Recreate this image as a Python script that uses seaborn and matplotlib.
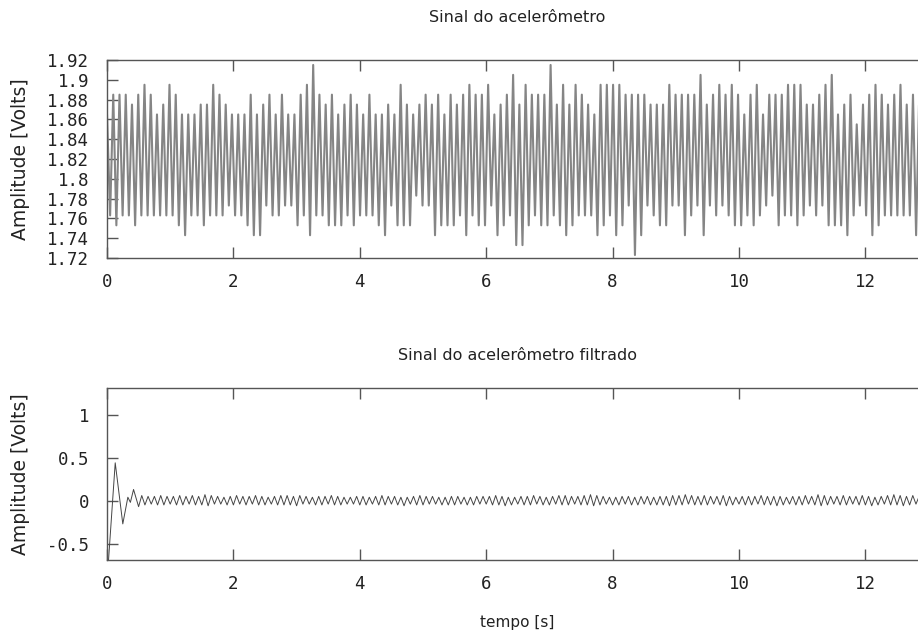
import numpy as np
import pandas as pd
import matplotlib
matplotlib.use("Agg")
import matplotlib.pyplot as plt
import seaborn as sns

# ---------------- data ----------------
# raw accelerometer signal: successive peak / trough values (one per ~0.1 s cycle)
raw_peaks = [
    1.865, 1.885, 1.885, 1.885, 1.875, 1.885, 1.895, 1.885, 1.865, 1.875, 1.895,
    1.885, 1.865, 1.865, 1.865, 1.875, 1.875, 1.895, 1.885, 1.875, 1.865, 1.865,
    1.865, 1.885, 1.865, 1.875, 1.885, 1.865, 1.885, 1.865, 1.865, 1.885, 1.895,
    1.915, 1.885, 1.875, 1.885, 1.865, 1.875, 1.885, 1.875, 1.865, 1.885, 1.865,
    1.865, 1.875, 1.865, 1.895, 1.875, 1.865, 1.875, 1.885, 1.875, 1.885, 1.865,
    1.885, 1.875, 1.885, 1.895, 1.885, 1.885, 1.895, 1.865, 1.875, 1.885, 1.905,
    1.875, 1.895, 1.885, 1.885, 1.885, 1.915, 1.875, 1.895, 1.875, 1.895, 1.885,
    1.875, 1.865, 1.895, 1.895, 1.895, 1.895, 1.885, 1.885, 1.885, 1.885, 1.875,
    1.875, 1.875, 1.895, 1.885, 1.885, 1.885, 1.885, 1.905, 1.875, 1.885, 1.895,
    1.885, 1.895, 1.885, 1.865, 1.885, 1.895, 1.865, 1.885, 1.885, 1.885, 1.895,
    1.895, 1.895, 1.875, 1.875, 1.885, 1.895, 1.905, 1.865, 1.875, 1.885, 1.855,
    1.875, 1.885, 1.895, 1.885, 1.875, 1.885, 1.895, 1.875, 1.885, 1.885, 1.875,
]
raw_troughs = [
    1.763, 1.753, 1.763, 1.763, 1.753, 1.763, 1.763, 1.763, 1.763, 1.763, 1.763,
    1.753, 1.743, 1.763, 1.763, 1.753, 1.763, 1.763, 1.763, 1.773, 1.763, 1.763,
    1.753, 1.743, 1.743, 1.773, 1.763, 1.763, 1.773, 1.773, 1.753, 1.763, 1.743,
    1.763, 1.763, 1.753, 1.753, 1.753, 1.763, 1.753, 1.763, 1.763, 1.763, 1.753,
    1.743, 1.773, 1.753, 1.753, 1.753, 1.783, 1.773, 1.773, 1.743, 1.753, 1.753,
    1.753, 1.763, 1.743, 1.763, 1.753, 1.753, 1.773, 1.743, 1.753, 1.763, 1.733,
    1.733, 1.753, 1.763, 1.753, 1.753, 1.763, 1.753, 1.743, 1.753, 1.763, 1.763,
    1.763, 1.743, 1.753, 1.763, 1.743, 1.753, 1.773, 1.723, 1.743, 1.773, 1.763,
    1.753, 1.753, 1.773, 1.773, 1.743, 1.763, 1.773, 1.743, 1.773, 1.763, 1.773,
    1.763, 1.753, 1.753, 1.763, 1.753, 1.763, 1.773, 1.783, 1.753, 1.763, 1.763,
    1.753, 1.763, 1.773, 1.763, 1.773, 1.753, 1.753, 1.753, 1.743, 1.763, 1.773,
    1.763, 1.743, 1.753, 1.763, 1.763, 1.763, 1.763, 1.763, 1.743, 1.773, 1.753,
]

# filtered signal: initial transient, then trough / peak values
filt_transient_t = [0.0, 0.13, 0.25, 0.33, 0.37, 0.42]
filt_transient_v = [-0.95, 0.44, -0.27, 0.04, -0.02, 0.13]
filt_peaks = [
    0.06, 0.05, 0.05, 0.06, 0.05, 0.05, 0.06, 0.05, 0.06, 0.05,
    0.07, 0.06, 0.05, 0.04, 0.05, 0.06, 0.05, 0.05, 0.06, 0.05,
    0.04, 0.05, 0.06, 0.06, 0.05, 0.06, 0.05, 0.04, 0.05, 0.05,
    0.06, 0.05, 0.04, 0.04, 0.05, 0.05, 0.04, 0.05, 0.06, 0.05,
    0.05, 0.04, 0.04, 0.05, 0.06, 0.05, 0.05, 0.04, 0.04, 0.05,
    0.05, 0.04, 0.04, 0.05, 0.05, 0.05, 0.06, 0.05, 0.04, 0.04,
    0.05, 0.05, 0.06, 0.05, 0.04, 0.05, 0.06, 0.06, 0.05, 0.05,
    0.06, 0.07, 0.06, 0.05, 0.04, 0.04, 0.05, 0.05, 0.04, 0.05,
    0.05, 0.04, 0.05, 0.05, 0.06, 0.06, 0.07, 0.06, 0.05, 0.06,
    0.05, 0.05, 0.06, 0.05, 0.04, 0.05, 0.05, 0.05, 0.06, 0.05,
    0.05, 0.05, 0.04, 0.05, 0.05, 0.06, 0.05, 0.07, 0.06, 0.05,
    0.05, 0.06, 0.05, 0.05, 0.06, 0.05, 0.04, 0.05, 0.06, 0.07,
    0.06, 0.05, 0.06, 0.05, 0.05,
]
filt_troughs = [
    -0.07, -0.05, -0.04, -0.05, -0.05, -0.04, -0.05, -0.05, -0.04, -0.05,
    -0.05, -0.06, -0.04, -0.04, -0.05, -0.05, -0.04, -0.05, -0.04, -0.05,
    -0.05, -0.04, -0.05, -0.05, -0.05, -0.06, -0.04, -0.04, -0.05, -0.05,
    -0.04, -0.05, -0.05, -0.04, -0.04, -0.05, -0.05, -0.04, -0.05, -0.05,
    -0.04, -0.05, -0.06, -0.04, -0.05, -0.05, -0.04, -0.04, -0.05, -0.05,
    -0.05, -0.04, -0.05, -0.05, -0.04, -0.04, -0.05, -0.05, -0.06, -0.05,
    -0.04, -0.05, -0.05, -0.04, -0.05, -0.05, -0.04, -0.05, -0.05, -0.04,
    -0.05, -0.05, -0.06, -0.05, -0.04, -0.05, -0.05, -0.04, -0.05, -0.05,
    -0.04, -0.05, -0.05, -0.05, -0.06, -0.05, -0.05, -0.04, -0.05, -0.05,
    -0.05, -0.04, -0.05, -0.06, -0.05, -0.04, -0.05, -0.05, -0.04, -0.05,
    -0.05, -0.06, -0.05, -0.04, -0.05, -0.05, -0.04, -0.05, -0.06, -0.05,
    -0.04, -0.05, -0.05, -0.04, -0.05, -0.05, -0.06, -0.05, -0.04, -0.05,
    -0.05, -0.06, -0.05, -0.04, -0.05,
]

x_ticks = [0, 2, 4, 6, 8, 10, 12]
raw_yticks = [1.72, 1.74, 1.76, 1.78, 1.8, 1.82, 1.84, 1.86, 1.88, 1.9, 1.92]
filt_yticks = [-0.5, 0, 0.5, 1]

title_top = "Sinal do acelerômetro"
title_bot = "Sinal do acelerômetro filtrado"
ylabel = "Amplitude [Volts]"
xlabel = "tempo [s]"

# ---------------- build series (sample clock) ----------------
T_END = 13.0
n = len(raw_peaks)
period = T_END / (n - 0.5)
raw_t, raw_v = [], []
for k in range(n):
    raw_t += [k * period, (k + 0.5) * period]
    raw_v += [raw_peaks[k], raw_troughs[k]]
raw_df = pd.DataFrame({"t": raw_t, "v": raw_v})

t0 = 0.5
m = len(filt_peaks)
fper = (T_END - t0) / m
ft, fv = list(filt_transient_t), list(filt_transient_v)
for k in range(m):
    ft += [t0 + k * fper, t0 + (k + 0.5) * fper]
    fv += [filt_troughs[k], filt_peaks[k]]
filt_df = pd.DataFrame({"t": ft, "v": fv})

# ---------------- plotting ----------------
sns.set_theme(style="white")
plt.rcParams["font.family"] = ["DejaVu Sans"]
plt.rcParams["axes.unicode_minus"] = False

fig = plt.figure(figsize=(9.18, 6.36), dpi=100)
W = 918.0
H = 636.0
left = 107 / W
width = (107 + 63.2 * 13.0) / W - left
ax1 = fig.add_axes([left, 1 - 258 / H, width, 198 / H])
ax2 = fig.add_axes([left, 1 - 560 / H, width, 172 / H])

sns.lineplot(data=raw_df, x="t", y="v", ax=ax1, color="#858585", lw=1.5,
             estimator=None, sort=False)
sns.lineplot(data=filt_df, x="t", y="v", ax=ax2, color="#454545", lw=0.7,
             estimator=None, sort=False)

tick_font = dict(family="DejaVu Sans Mono", size=12.5)
for ax in (ax1, ax2):
    ax.set_xlim(0, T_END)
    ax.set_xticks(x_ticks)
    ax.set_xticklabels([str(v) for v in x_ticks], **tick_font, color="#222222")
    ax.tick_params(direction="in", length=8, width=1, color="#555555",
                   top=True, right=True, bottom=True, left=True, pad=11)
    for s in ax.spines.values():
        s.set_color("#555555")
        s.set_linewidth(1.0)
    ax.set_xlabel("")
    ax.set_ylabel(ylabel, fontsize=13.5, color="#222222")
    ax.yaxis.set_label_coords(-(107 - 30) / (width * W), 0.5)
    ax.set_facecolor("white")

ax1.set_ylim(1.72, 1.92)
ax1.set_yticks(raw_yticks)
ax1.set_yticklabels([f"{v:g}" for v in raw_yticks], **tick_font, color="#222222")
ax1.tick_params(axis="y", pad=13)

ax2.set_ylim(-0.69, 1.31)
ax2.set_yticks(filt_yticks)
ax2.set_yticklabels([f"{v:g}" for v in filt_yticks], **tick_font, color="#222222")
ax2.tick_params(axis="y", pad=13)

fig.text(517 / W, 1 - 18 / H, title_top, ha="center", va="center",
         fontsize=11.5, color="#222222")
fig.text(517 / W, 1 - 355 / H, title_bot, ha="center", va="center",
         fontsize=11.5, color="#222222")
fig.text(517 / W, 1 - 622 / H, xlabel, ha="center", va="center",
         fontsize=11, color="#222222")

fig.savefig("out.png", dpi=100, facecolor="white")
